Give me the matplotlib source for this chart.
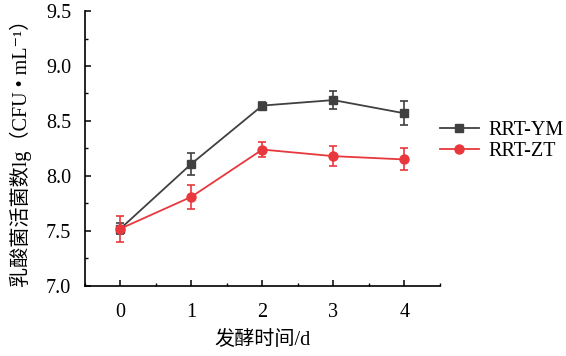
import matplotlib
matplotlib.use('Agg')
import matplotlib.pyplot as plt
from matplotlib.ticker import MultipleLocator, FormatStrFormatter
from matplotlib.lines import Line2D

plt.rcParams['font.family'] = ['Liberation Serif', 'DejaVu Serif', 'Noto Sans CJK SC']

# data
days = [0, 1, 2, 3, 4]
ym_mean = [7.52, 8.11, 8.64, 8.69, 8.57]
ym_err = [0.05, 0.10, 0.03, 0.08, 0.11]
zt_mean = [7.52, 7.81, 8.24, 8.18, 8.15]
zt_err = [0.12, 0.11, 0.07, 0.09, 0.10]
labels = ['RRT-YM', 'RRT-ZT']

c_ym = '#404040'
c_zt = '#e8383d'

fig = plt.figure(figsize=(5.66, 3.56), dpi=100)
ax = fig.add_axes([0.150, 0.197, 0.627, 0.772])

ax.errorbar(days, ym_mean, yerr=ym_err, color=c_ym, marker='s', markersize=6,
            lw=1.3, capsize=3, elinewidth=1.2, capthick=1.2)
ax.errorbar(days, zt_mean, yerr=zt_err, color=c_zt, marker='o', markersize=6.5,
            lw=1.3, capsize=3, elinewidth=1.2, capthick=1.2)

ax.set_xlim(-0.5, 4.5)
ax.set_ylim(7.0, 9.5)
ax.xaxis.set_major_locator(MultipleLocator(1))
ax.xaxis.set_minor_locator(MultipleLocator(0.5))
ax.yaxis.set_major_locator(MultipleLocator(0.5))
ax.yaxis.set_minor_locator(MultipleLocator(0.25))
ax.yaxis.set_major_formatter(FormatStrFormatter('%.1f'))

for s in ['top', 'right']:
    ax.spines[s].set_visible(False)
for s in ['left', 'bottom']:
    ax.spines[s].set_linewidth(1.2)
ax.tick_params(which='major', direction='in', length=4, width=1.1, labelsize=14.5)
ax.tick_params(axis='x', which='major', pad=12)
ax.tick_params(axis='y', which='major', pad=10)
ax.tick_params(which='minor', direction='in', length=2.5, width=1.0)

ax.set_xlabel('发酵时间/d', fontsize=14.5, labelpad=7)
ax.set_ylabel('乳酸菌活菌数lg（CFU • mL⁻¹）', fontsize=14.5, labelpad=10)

handles = [Line2D([], [], color=c_ym, marker='s', markersize=6, lw=1.3),
           Line2D([], [], color=c_zt, marker='o', markersize=6.5, lw=1.3)]
fig.legend(handles, labels, loc='center left', bbox_to_anchor=(0.778, 0.604),
           frameon=False, fontsize=14.5, handlelength=1.9, handletextpad=0.5,
           labelspacing=0.1, borderpad=0, borderaxespad=0)

fig.savefig('out.png', dpi=100)
